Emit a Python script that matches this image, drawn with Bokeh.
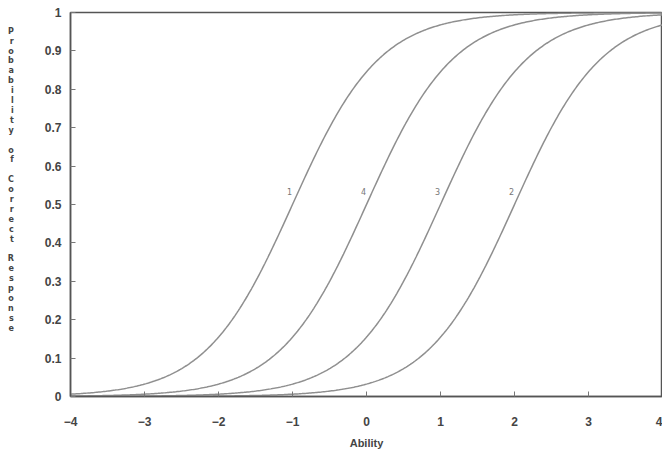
import numpy as np
from bokeh.plotting import figure
from bokeh.models import Range1d, FixedTicker, ColumnDataSource
from bokeh.core.properties import value
from bokeh.embed import file_html
from bokeh.resources import INLINE

# Item parameters (2PL logistic, D = 1.7)
item_labels = ["1", "4", "3", "2"]
item_difficulty = [-1.0, 0.0, 1.0, 2.0]
item_discrimination = [1.0, 1.0, 1.0, 1.0]
label_prob = [0.535, 0.535, 0.535, 0.535]

x_ticks = [-4, -3, -2, -1, 0, 1, 2, 3, 4]
y_ticks = [0, 0.1, 0.2, 0.3, 0.4, 0.5, 0.6, 0.7, 0.8, 0.9, 1]
y_tick_labels = {0: "0", 0.1: "0.1", 0.2: "0.2", 0.3: "0.3", 0.4: "0.4", 0.5: "0.5",
                 0.6: "0.6", 0.7: "0.7", 0.8: "0.8", 0.9: "0.9", 1: "1"}
x_title = "Ability"
y_title = "Probability of Correct Response"

p = figure(width=662, height=451, output_backend="svg", toolbar_location=None,
           x_range=Range1d(-4, 4), y_range=Range1d(0, 1),
           min_border_left=70, min_border_right=0, min_border_top=12, min_border_bottom=55)
p.background_fill_color = "white"
p.border_fill_color = "white"
p.outline_line_color = "#555555"
p.outline_line_width = 1.5
p.xgrid.visible = False
p.ygrid.visible = False

theta = np.linspace(-4, 4, 400)
for b, a in zip(item_difficulty, item_discrimination):
    prob = 1.0 / (1.0 + np.exp(-1.7 * a * (theta - b)))
    p.line(theta, prob, line_color="#8f8f8f", line_width=1.5)

src = ColumnDataSource(dict(x=item_difficulty, y=label_prob, t=item_labels))
p.text(x="x", y="y", text="t", source=src, text_font=value("DejaVu Sans"),
       text_font_size="8px", text_color="#777777", text_align="center",
       text_baseline="middle", x_offset=-3)

for ax in (p.xaxis[0], p.yaxis[0]):
    ax.axis_line_color = "#555555"
    ax.axis_line_width = 1.5
    ax.major_tick_in = 5
    ax.major_tick_out = 0
    ax.major_tick_line_color = "#777777"
    ax.minor_tick_line_color = None
    ax.major_label_text_font = "Liberation Sans"
    ax.major_label_text_font_size = "12px"
    ax.major_label_text_font_style = "bold"
    ax.major_label_text_color = "#444444"

p.xaxis.ticker = FixedTicker(ticks=x_ticks)
p.yaxis.ticker = FixedTicker(ticks=y_ticks)
p.yaxis.major_label_overrides = y_tick_labels
p.xaxis.major_label_standoff = 20
p.yaxis.major_label_standoff = 9

p.xaxis.axis_label = x_title
p.xaxis.axis_label_text_font = "Liberation Sans"
p.xaxis.axis_label_text_font_size = "11px"
p.xaxis.axis_label_text_font_style = "bold"
p.xaxis.axis_label_text_color = "#444444"
p.xaxis.axis_label_standoff = 8

p.yaxis.axis_label = "\n".join(list(y_title) + [" "] * 5)
p.yaxis.axis_label_orientation = "horizontal"
p.yaxis.axis_label_text_font = "DejaVu Sans"
p.yaxis.axis_label_text_font_size = "8px"
p.yaxis.axis_label_text_font_style = "bold"
p.yaxis.axis_label_text_color = "#444444"
p.yaxis.axis_label_text_line_height = 1.1
p.yaxis.axis_label_standoff = 28

open("out.html", "w").write(file_html(p, INLINE))
